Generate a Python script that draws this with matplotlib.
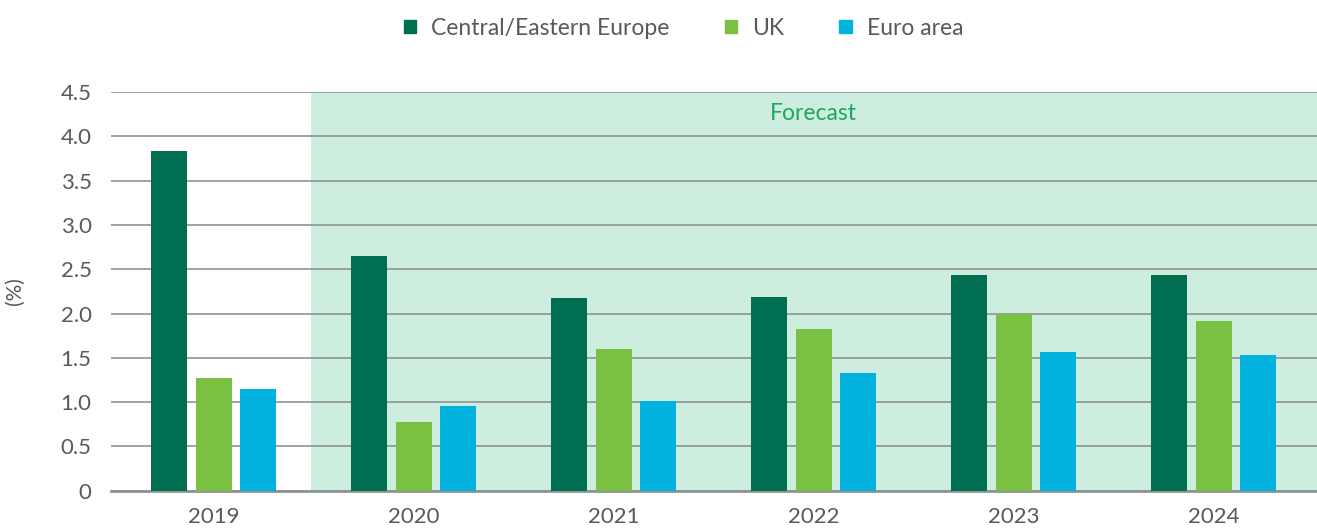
import numpy as np
import matplotlib.pyplot as plt
from matplotlib.patches import Patch

years = ['2019', '2020', '2021', '2022', '2023', '2024']
cee = [3.84, 2.65, 2.17, 2.19, 2.43, 2.44]
uk = [1.27, 0.78, 1.60, 1.82, 2.00, 1.91]
euro = [1.15, 0.96, 1.01, 1.33, 1.57, 1.53]
series_names = ['Central/Eastern Europe', 'UK', 'Euro area']
yticks = [0, 0.5, 1.0, 1.5, 2.0, 2.5, 3.0, 3.5, 4.0, 4.5]
ytick_labels = ['0', '0.5', '1.0', '1.5', '2.0', '2.5', '3.0', '3.5', '4.0', '4.5']

colors = ['#006E51', '#7AC143', '#00B2DD']
txt = '#595959'
plt.rcParams['font.family'] = ['Lato', 'DejaVu Sans']

fig = plt.figure(figsize=(13.17, 5.29), dpi=100)
ax = fig.add_axes([0.0843, 0.0724, 0.9157, 0.7536])

x = np.arange(len(years))
w = 0.18
step = 0.2225
for i, vals in enumerate([cee, uk, euro]):
    ax.bar(x + (i - 1) * step, vals, width=w, color=colors[i], zorder=3)

# forecast shading
ax.axvspan(0.4875, 5.6, color='#CDEDDF', zorder=0, lw=0)
ax.text(3, 4.26, 'Forecast', ha='center', va='center', color='#1BA85E', fontsize=16.5)

ax.set_xlim(-0.5125, 5.5175)
ax.set_ylim(0, 4.5)
ax.set_yticks(yticks)
ax.set_yticklabels(ytick_labels)
ax.set_xticks(x)
ax.set_xticklabels(years)
ax.yaxis.grid(True, color='#8C9496', lw=1.2, zorder=1)
ax.set_axisbelow(True)
for s in ['top', 'right', 'left']:
    ax.spines[s].set_visible(False)
ax.spines['bottom'].set_color('#8C9496')
ax.spines['bottom'].set_linewidth(2)
ax.tick_params(axis='both', length=0, colors=txt, labelsize=16)
ax.tick_params(axis='y', pad=14)
ax.tick_params(axis='x', pad=12)
ax.set_ylabel('(%)', color=txt, fontsize=15, labelpad=26)

handles = [Patch(color=c) for c in colors]
fig.legend(handles, series_names, loc='center', bbox_to_anchor=(0.519, 0.947), ncol=3,
           frameon=False, fontsize=16.5, handlelength=0.55, handleheight=0.55,
           columnspacing=2.4, handletextpad=0.65, labelcolor=txt)

fig.savefig('out.png', dpi=100)
